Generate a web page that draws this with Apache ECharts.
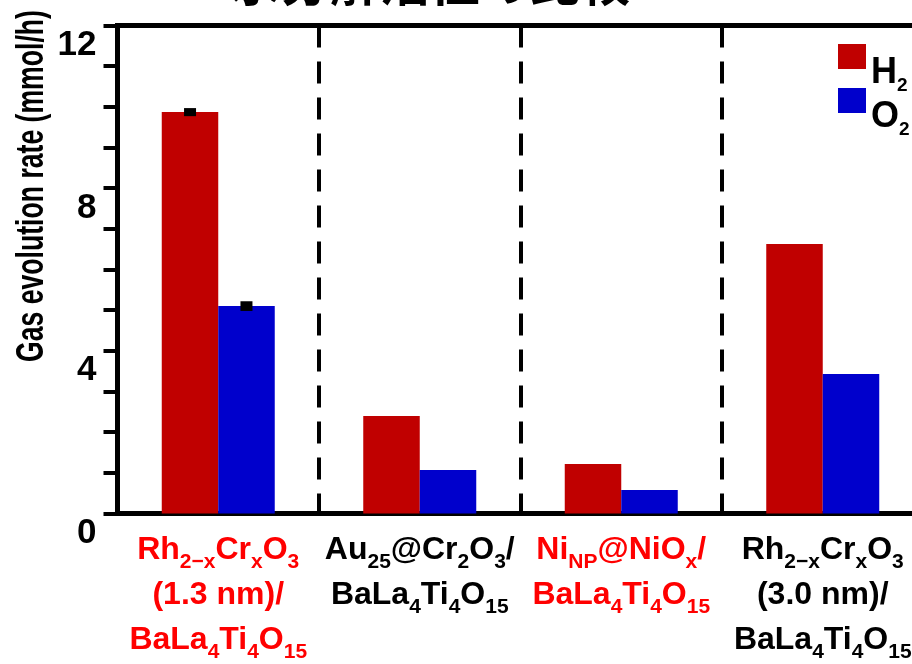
<!DOCTYPE html>
<html>
<head>
<meta charset="utf-8">
<script src="https://cdn.jsdelivr.net/npm/echarts@6/dist/echarts.min.js"></script>
<style>
  html, body { margin: 0; padding: 0; background: #fff; }
  #chart { width: 912px; height: 664px; }
</style>
</head>
<body>
<div id="chart"></div>
<script>
// Catalyst names; _{...} marks a subscript
const categories = [
  'Rh_{2−x}Cr_{x}O_{3}\n(1.3 nm)/\nBaLa_{4}Ti_{4}O_{15}',
  'Au_{25}@Cr_{2}O_{3}/\nBaLa_{4}Ti_{4}O_{15}',
  'Ni_{NP}@NiO_{x}/\nBaLa_{4}Ti_{4}O_{15}',
  'Rh_{2−x}Cr_{x}O_{3}\n(3.0 nm)/\nBaLa_{4}Ti_{4}O_{15}'
];
const highlighted = [true, false, true, false];

// Gas evolution rates (mmol/h)
const h2Rate = [9.87, 2.40, 1.22, 6.63];
const o2Rate = [5.10, 1.07, 0.58, 3.43];
const h2Err = [0.05, null, null, null];
const o2Err = [0.07, null, null, null];

const yTickLabels = [0, 4, 8, 12];
const seriesNames = ['H2', 'O2'];

const FONT = '"Liberation Sans", Arial, Helvetica, sans-serif';

function toRich(str, hl) {
  const m = hl ? 'mr' : 'm';
  const s = hl ? 'sr' : 's';
  return str.split('\n').map(function (line) {
    let out = '';
    const re = /_\{([^}]*)\}/g;
    let last = 0, match;
    while ((match = re.exec(line))) {
      if (match.index > last) out += '{' + m + '|' + line.slice(last, match.index) + '}';
      out += '{' + s + '|' + match[1] + '}';
      last = re.lastIndex;
    }
    if (last < line.length) out += '{' + m + '|' + line.slice(last) + '}';
    return out;
  }).join('\n');
}

const mainStyle = (color) => ({ fontFamily: FONT, fontSize: 32, fontWeight: 'bold', color: color, lineHeight: 45 });
const subStyle = (color) => ({ fontFamily: FONT, fontSize: 21, fontWeight: 'bold', color: color, lineHeight: 25, verticalAlign: 'bottom' });

// error bar items: [category, value, error, side(-1 left bar, +1 right bar)]
const errData = [];
h2Err.forEach((e, i) => { if (e != null) errData.push([i, h2Rate[i], e, -1]); });
o2Err.forEach((e, i) => { if (e != null) errData.push([i, o2Rate[i], e, 1]); });

const chart = echarts.init(document.getElementById('chart'), null, { renderer: 'canvas' });

chart.setOption({
  animation: false,
  backgroundColor: '#fff',
  grid: {
    left: 117.5, top: 25.5, right: -11.5, bottom: 150.5,
    outerBoundsMode: 'none',
    containLabel: false,
    show: true, borderColor: '#000', borderWidth: 5, backgroundColor: 'transparent'
  },
  graphic: [
    {
      type: 'text', x: 430, y: 7, z: 100,
      style: { text: '水分解活性の比較', font: 'bold 50px "Noto Sans CJK JP"', fill: '#000', align: 'center', verticalAlign: 'bottom' }
    },
    {
      type: 'text', x: 33, y: 186, rotation: Math.PI / 2, scaleX: 0.7, z: 100,
      style: { text: 'Gas evolution rate (mmol/h)', font: 'bold 38px ' + FONT, fill: '#000', align: 'center', verticalAlign: 'middle' }
    }
  ],
  legend: {
    data: seriesNames,
    orient: 'vertical',
    left: 838, top: 18, padding: 0,
    itemWidth: 28, itemHeight: 25, itemGap: -33,
    icon: 'rect',
    selectedMode: false,
    formatter: (n) => '{m|' + n[0] + '}{s|' + n.slice(1) + '}',
    textStyle: {
      rich: {
        m: { fontFamily: FONT, fontSize: 36, fontWeight: 'bold', color: '#000', lineHeight: 36, padding: [34, 0, 0, 0] },
        s: { fontFamily: FONT, fontSize: 19, fontWeight: 'bold', color: '#000', lineHeight: 19, padding: [58, 0, 0, 0] }
      }
    }
  },
  xAxis: {
    type: 'category',
    data: categories,
    boundaryGap: true,
    axisLine: { show: true, lineStyle: { color: '#000', width: 5 } },
    axisTick: { show: true, inside: true, length: 7, lineStyle: { color: '#000', width: 4 } },
    splitLine: { show: true, lineStyle: { color: '#000', width: 4, type: [22, 14] } },
    axisLabel: {
      interval: 0,
      margin: 14,
      formatter: (v, i) => toRich(v, highlighted[i]),
      rich: {
        m: mainStyle('#000'), s: subStyle('#000'),
        mr: mainStyle('#ff0000'), sr: subStyle('#ff0000')
      }
    }
  },
  yAxis: {
    type: 'value',
    min: 0, max: 12, interval: 1,
    axisLine: { show: true, lineStyle: { color: '#000', width: 5 } },
    axisTick: { show: true, length: 14, lineStyle: { color: '#000', width: 4 } },
    splitLine: { show: false },
    axisLabel: {
      margin: 21,
      fontFamily: FONT, fontSize: 35, fontWeight: 'bold', color: '#000',
      verticalAlign: 'top', lineHeight: 40,
      formatter: (v) => yTickLabels.includes(v) ? String(v) : ''
    }
  },
  series: [
    {
      name: seriesNames[0], type: 'bar', data: h2Rate,
      barWidth: 56.5, barGap: '0%',
      itemStyle: { color: '#c00000' }
    },
    {
      name: seriesNames[1], type: 'bar', data: o2Rate,
      barWidth: 56.5, barGap: '0%',
      itemStyle: { color: '#0000cc' }
    },
    {
      name: 'error', type: 'custom', data: errData, z: 10,
      encode: { x: 0, y: 1 },
      renderItem: function (params, api) {
        const ci = api.value(0), v = api.value(1), e = api.value(2), side = api.value(3);
        const band = api.size([1, 0])[0];
        const x = api.coord([ci, v])[0] + side * band * 0.14;
        const top = api.coord([ci, v + e])[1];
        const bot = api.coord([ci, v - e])[1];
        const hw = 6, cap = 2;
        return {
          type: 'rect',
          shape: { x: x - hw, y: top - cap, width: hw * 2, height: bot - top + cap * 2 },
          style: { fill: '#000' }
        };
      }
    }
  ]
});
</script>
</body>
</html>
